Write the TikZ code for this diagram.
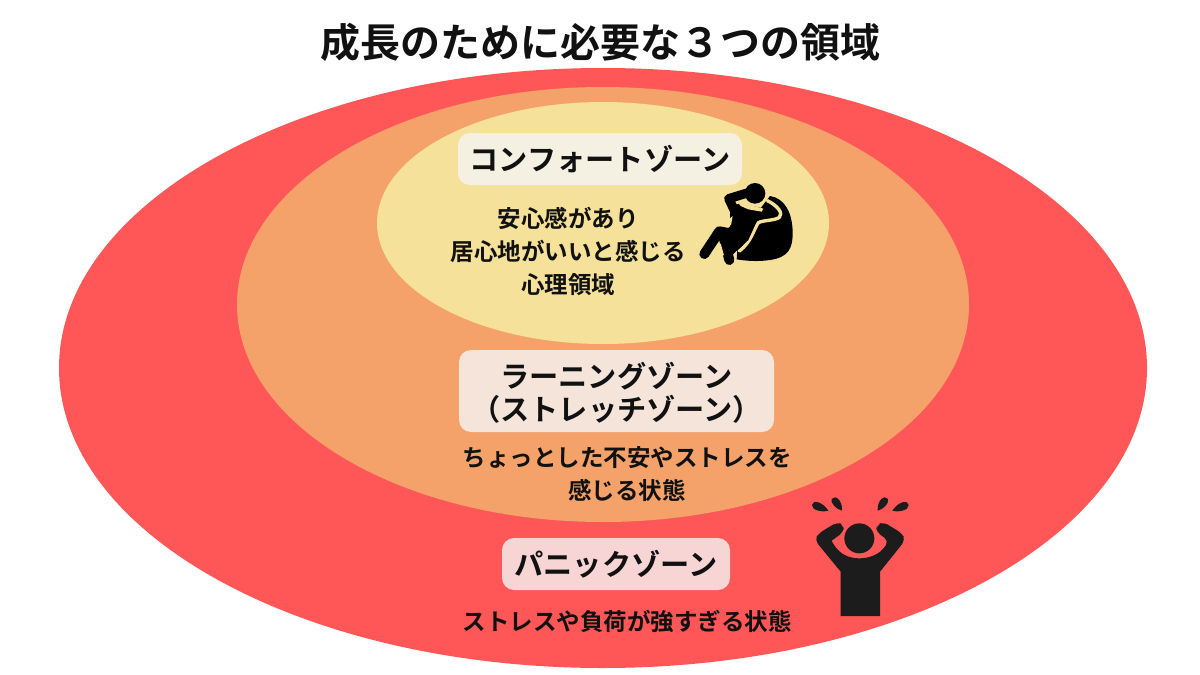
\documentclass[tikz,border=0pt]{standalone}
\usepackage{fontspec}
\setmainfont{Noto Sans CJK JP}[BoldFont={Noto Sans CJK JP Bold}]
\definecolor{outerc}{HTML}{FF5757}
\definecolor{midc}{HTML}{F4A26A}
\definecolor{innerc}{HTML}{F5E199}
\definecolor{ink}{HTML}{111111}
\definecolor{boxc}{HTML}{F5F5F5}
\definecolor{figc}{HTML}{1C1C1C}
\tikzset{
  lab/.style={rounded corners=6pt,fill=boxc,fill opacity=0.8,text opacity=1,inner sep=0pt,text=ink,font=\fontsize{14.6}{15.5}\selectfont\bfseries,align=center,anchor=center},
  body/.style={text=ink,font=\fontsize{11.75}{16.5}\selectfont\bfseries,align=center,inner sep=0pt},
  icon/.style={x=0.16667pt,y=-0.16667pt}
}
\begin{document}
\begin{tikzpicture}[x=0.5pt,y=-0.5pt]
\useasboundingbox (0,0) rectangle (1200,675);
\fill[white] (0,0) rectangle (1200,675);
\node[text=ink,font=\fontsize{20}{20}\selectfont\bfseries,inner sep=0pt] (title) at (600,42) {成長のために必要な３つの領域};
\fill[outerc] (603,368) ellipse [x radius=544,y radius=300];
\fill[midc] (603,304.5) ellipse [x radius=366,y radius=217.5];
\fill[innerc] (603,223) ellipse [x radius=226,y radius=121];
\node[lab,minimum width=142pt,minimum height=26pt] (comfort) at (600,159) {コンフォートゾーン};
\node[body] (comforttext) at (568,251) {安心感があり\\居心地がいいと感じる\\心理領域};
\node[lab,minimum width=157.5pt,minimum height=41pt] (learn) at (616.5,391) {};
\node[lab,fill=none] (learnlabel) at (616.5,393) {ラーニングゾーン\\[1pt]（ストレッチゾーン）};
\node[body] (learntext) at (627,474.5) {ちょっとした不安やストレスを\\感じる状態};
\node[lab,minimum width=114pt,minimum height=26pt] (panic) at (616,564) {パニックゾーン};
\node[body] (panictext) at (627,621) {ストレスや負荷が強すぎる状態};
% relaxing figure
\begin{scope}[shift={(680,170)},icon]
\fill[black] (270,78) .. controls (315,85) and (338,130) .. (338,190) .. controls (338,235) and (325,262) .. (270,270) .. controls (230,276) and (195,272) .. (170,268) -- (175,200) -- (230,130) -- cycle;
\draw[innerc,line width=1.7pt,line cap=round,line join=round] (262,92) .. controls (290,105) and (312,130) .. (298,142) .. controls (285,152) and (250,150) .. (235,158) .. controls (222,175) and (215,215) .. (178,243);
\fill[black] (225,70) circle [radius=31];
\draw[black,line width=4.6pt,line cap=round,line join=round] (170,135) -- (146,86) -- (205,68);
\fill[black] (150,112) -- (180,100) -- (252,116) -- (246,132) -- (232,150) -- (205,210) -- (172,240) -- (150,262) -- (125,190) -- (150,170) -- cycle;
\draw[black,line width=5pt,line cap=round,line join=round] (73,252) -- (118,184) -- (150,190);
\draw[black,line width=5pt,line cap=round] (128,190) -- (148,270);
\fill[innerc] (172,95) -- (190,90) -- (205,104) -- (250,116) -- (245,125) -- (205,118) -- (182,108) -- cycle;
\fill[innerc] (158,138) -- (153,166) -- (132,160) -- cycle;
\fill[innerc] (122,220) -- (132,256) -- (105,256) -- cycle;
\end{scope}
% panic figure
\begin{scope}[shift={(800,490)},icon]
\fill[figc] (178,145) circle [radius=45];
\fill[figc] (122,378) -- (240,378) -- (240,245) [rounded corners=2.5pt] -- (316,150) -- (306,130) -- (250,96) -- (230,105) -- (228,125) -- (266,152) [sharp corners] .. controls (240,195) and (205,205) .. (178,205) .. controls (150,205) and (115,195) .. (95,152) [rounded corners=2.5pt] -- (132,125) -- (130,105) -- (112,96) -- (56,130) -- (44,150) [sharp corners] -- (122,245) -- cycle;
\fill[figc] (85,62) .. controls (65,68) and (35,60) .. (36,45) .. controls (38,28) and (68,35) .. cycle;
\fill[figc] (126,62) .. controls (108,58) and (90,38) .. (95,27) .. controls (105,13) and (128,30) .. cycle;
\fill[figc] (277,62) .. controls (297,68) and (327,60) .. (326,45) .. controls (324,28) and (294,35) .. cycle;
\fill[figc] (233,62) .. controls (251,58) and (269,38) .. (264,27) .. controls (254,13) and (231,30) .. cycle;
\end{scope}
\end{tikzpicture}
\end{document}
